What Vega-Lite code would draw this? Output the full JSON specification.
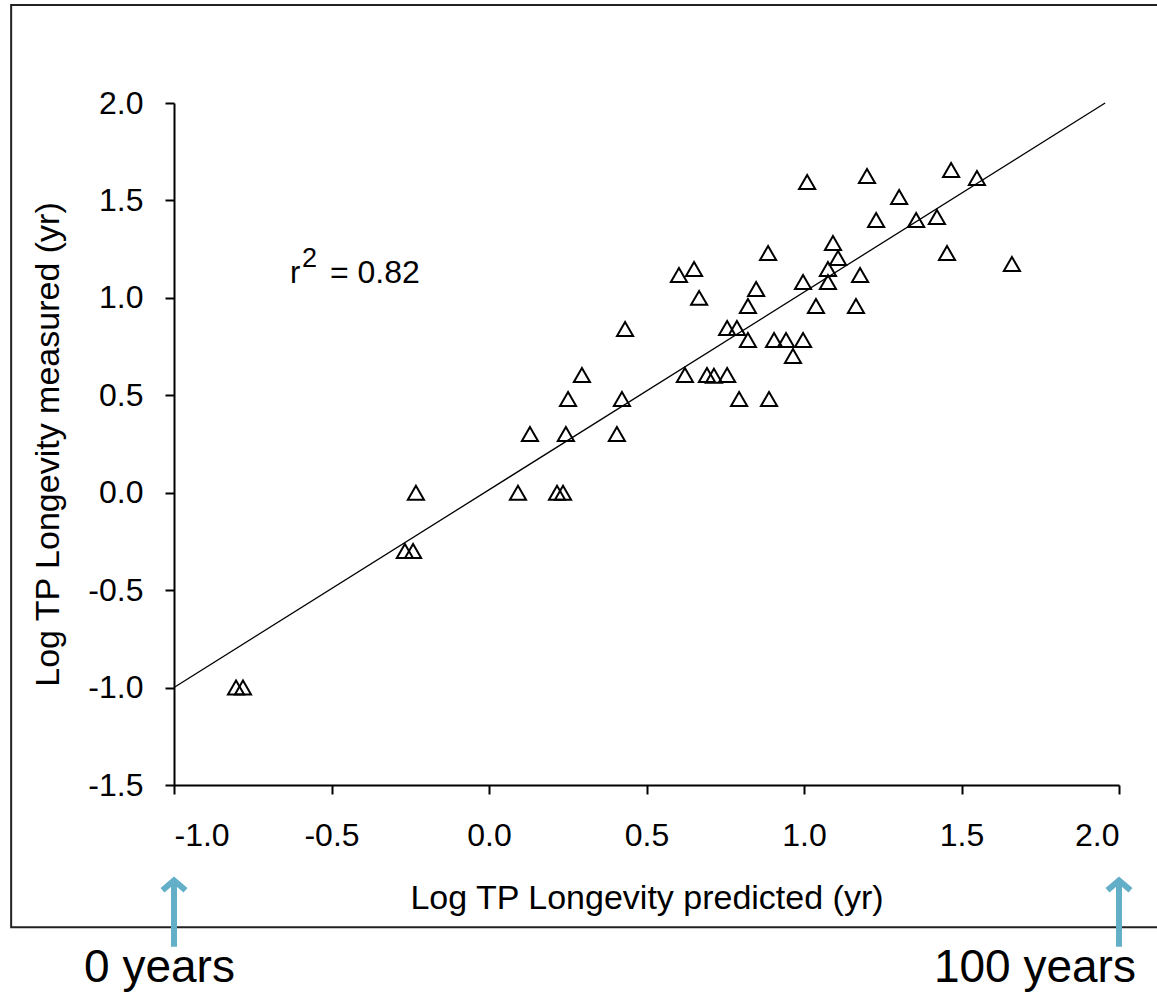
{
  "$schema": "https://vega.github.io/schema/vega-lite/v6.json",
  "autosize": {"type": "none"},
  "width": 945,
  "height": 682,
  "padding": {"left": 174, "top": 103, "right": 38, "bottom": 207},
  "background": "white",
  "config": {
    "view": {"stroke": null},
    "font": "Liberation Sans",
    "axis": {
      "grid": false,
      "domainColor": "black",
      "domainWidth": 2,
      "tickColor": "black",
      "tickWidth": 2,
      "tickSize": 9,
      "labelColor": "black",
      "titleColor": "black",
      "labelFont": "Liberation Sans",
      "titleFont": "Liberation Sans",
      "labelFontSize": 32,
      "titleFontSize": 34,
      "titleFontWeight": "normal",
      "labelExpr": "replace(datum.label, '\u2212', '-')"
    }
  },
  "data": {"values": [
    {"predicted": -0.803, "measured": -1.0},
    {"predicted": -0.781, "measured": -1.0},
    {"predicted": -0.267, "measured": -0.299},
    {"predicted": -0.241, "measured": -0.299},
    {"predicted": -0.232, "measured": 0.0},
    {"predicted": 0.092, "measured": 0.0},
    {"predicted": 0.216, "measured": 0.0},
    {"predicted": 0.235, "measured": 0.0},
    {"predicted": 0.130, "measured": 0.301},
    {"predicted": 0.244, "measured": 0.301},
    {"predicted": 0.406, "measured": 0.301},
    {"predicted": 0.251, "measured": 0.481},
    {"predicted": 0.422, "measured": 0.481},
    {"predicted": 0.295, "measured": 0.604},
    {"predicted": 0.432, "measured": 0.84},
    {"predicted": 0.603, "measured": 1.117},
    {"predicted": 0.651, "measured": 1.148},
    {"predicted": 0.667, "measured": 1.0},
    {"predicted": 0.622, "measured": 0.604},
    {"predicted": 0.692, "measured": 0.604},
    {"predicted": 0.714, "measured": 0.6},
    {"predicted": 0.756, "measured": 0.604},
    {"predicted": 0.794, "measured": 0.481},
    {"predicted": 0.889, "measured": 0.481},
    {"predicted": 0.756, "measured": 0.845},
    {"predicted": 0.787, "measured": 0.845},
    {"predicted": 0.822, "measured": 0.784},
    {"predicted": 0.822, "measured": 0.958},
    {"predicted": 0.848, "measured": 1.046},
    {"predicted": 0.886, "measured": 1.23},
    {"predicted": 0.905, "measured": 0.784},
    {"predicted": 0.943, "measured": 0.784},
    {"predicted": 0.965, "measured": 0.702},
    {"predicted": 0.997, "measured": 0.784},
    {"predicted": 0.997, "measured": 1.081},
    {"predicted": 1.038, "measured": 0.958},
    {"predicted": 1.010, "measured": 1.595},
    {"predicted": 1.076, "measured": 1.081},
    {"predicted": 1.076, "measured": 1.148},
    {"predicted": 1.092, "measured": 1.282},
    {"predicted": 1.108, "measured": 1.205},
    {"predicted": 1.165, "measured": 0.958},
    {"predicted": 1.178, "measured": 1.117},
    {"predicted": 1.200, "measured": 1.625},
    {"predicted": 1.229, "measured": 1.40},
    {"predicted": 1.302, "measured": 1.518},
    {"predicted": 1.356, "measured": 1.40},
    {"predicted": 1.422, "measured": 1.415},
    {"predicted": 1.454, "measured": 1.23},
    {"predicted": 1.467, "measured": 1.656},
    {"predicted": 1.549, "measured": 1.615},
    {"predicted": 1.660, "measured": 1.174}
  ]},
  "layer": [
    {
      "data": {"values": [{}]},
      "mark": {"type": "rect", "filled": false, "stroke": "#222222", "strokeWidth": 2},
      "encoding": {
        "x": {"datum": -1.517, "type": "quantitative", "scale": {"domain": [-1, 2], "nice": false, "zero": false}},
        "x2": {"datum": 2.14},
        "y": {"datum": 2.503, "type": "quantitative", "scale": {"domain": [-1.5, 2], "nice": false, "zero": false}},
        "y2": {"datum": -2.23}
      }
    },
    {
      "mark": {"type": "point", "shape": "triangle-up", "filled": false, "stroke": "black", "strokeWidth": 2, "size": 260, "opacity": 1},
      "encoding": {
        "x": {
          "field": "predicted", "type": "quantitative",
          "scale": {"domain": [-1, 2], "nice": false, "zero": false},
          "axis": {"values": [-1, -0.5, 0, 0.5, 1, 1.5, 2], "format": ".1f", "title": "Log TP Longevity predicted (yr)", "labelPadding": 26, "titlePadding": 30}
        },
        "y": {
          "field": "measured", "type": "quantitative",
          "scale": {"domain": [-1.5, 2], "nice": false, "zero": false},
          "axis": {"values": [-1.5, -1, -0.5, 0, 0.5, 1, 1.5, 2], "format": ".1f", "title": "Log TP Longevity measured (yr)", "labelPadding": 22, "titlePadding": 22}
        }
      }
    },
    {
      "data": {"values": [{}]},
      "mark": {"type": "rule", "color": "black", "strokeWidth": 1.3},
      "encoding": {
        "x": {"datum": -1.0, "type": "quantitative"},
        "y": {"datum": -1.0, "type": "quantitative"},
        "x2": {"datum": 1.956},
        "y2": {"datum": 2.0}
      }
    },
    {
      "data": {"values": [{}]},
      "mark": {"type": "text", "text": "r", "fontSize": 31, "align": "left", "baseline": "alphabetic", "color": "black"},
      "encoding": {"x": {"datum": -0.632, "type": "quantitative"}, "y": {"datum": 1.076, "type": "quantitative"}}
    },
    {
      "data": {"values": [{}]},
      "mark": {"type": "text", "text": "2", "fontSize": 27, "align": "left", "baseline": "alphabetic", "color": "black"},
      "encoding": {"x": {"datum": -0.594, "type": "quantitative"}, "y": {"datum": 1.158, "type": "quantitative"}}
    },
    {
      "data": {"values": [{}]},
      "mark": {"type": "text", "text": "=  0.82", "fontSize": 32, "align": "left", "baseline": "alphabetic", "color": "black"},
      "encoding": {"x": {"datum": -0.505, "type": "quantitative"}, "y": {"datum": 1.076, "type": "quantitative"}}
    },
    {
      "data": {"values": [{"at": -1.0}, {"at": 2.0}]},
      "mark": {"type": "rule", "color": "#62AFC7", "strokeWidth": 6},
      "encoding": {
        "x": {"field": "at", "type": "quantitative"},
        "y": {"datum": -2.33, "type": "quantitative"},
        "y2": {"datum": -1.995}
      }
    },
    {
      "data": {"values": [{"at": -1.0}, {"at": 2.0}]},
      "mark": {"type": "point", "shape": "M-1,0.85L0,0L1,0.85", "filled": false, "stroke": "#62AFC7", "strokeWidth": 6, "size": 529, "opacity": 1},
      "encoding": {
        "x": {"field": "at", "type": "quantitative"},
        "y": {"datum": -1.99, "type": "quantitative"}
      }
    },
    {
      "data": {"values": [{}]},
      "mark": {"type": "text", "text": "0 years", "fontSize": 46, "align": "center", "baseline": "alphabetic", "color": "black"},
      "encoding": {"x": {"datum": -1.046, "type": "quantitative"}, "y": {"datum": -2.511, "type": "quantitative"}}
    },
    {
      "data": {"values": [{}]},
      "mark": {"type": "text", "text": "100 years", "fontSize": 46, "align": "center", "baseline": "alphabetic", "color": "black"},
      "encoding": {"x": {"datum": 1.733, "type": "quantitative"}, "y": {"datum": -2.511, "type": "quantitative"}}
    }
  ]
}
